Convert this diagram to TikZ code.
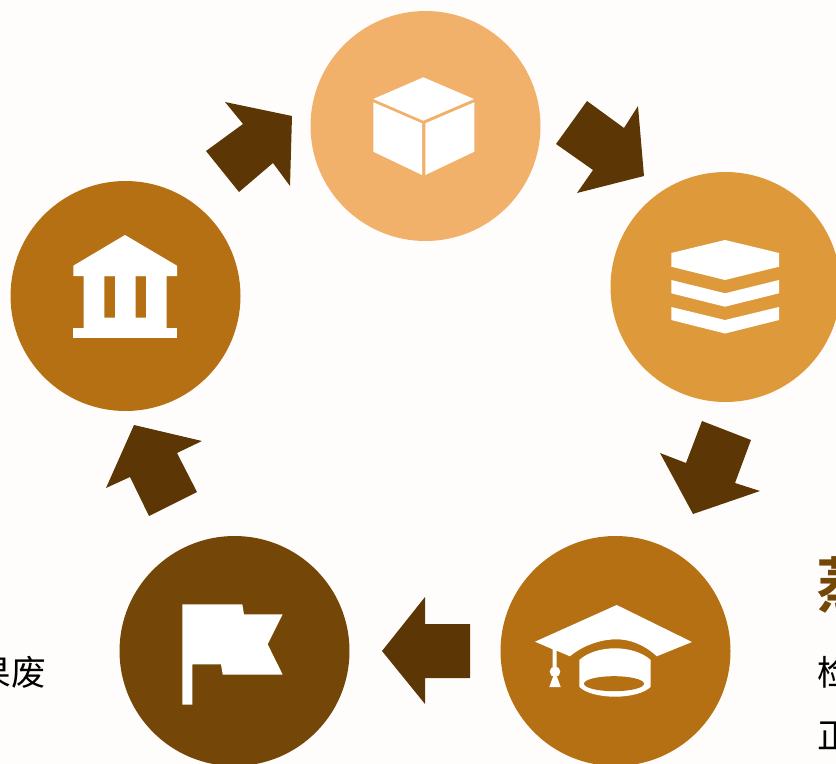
\documentclass[tikz,border=0pt]{standalone}
\usepackage{fontspec}
\newfontfamily\cjk{Noto Sans CJK SC}
\newfontfamily\cjkb{Noto Sans CJK SC Bold}
\definecolor{cTop}{HTML}{F2B16A}
\definecolor{cRight}{HTML}{DE9A3A}
\definecolor{cMid}{HTML}{B57014}
\definecolor{cDark}{HTML}{744708}
\definecolor{cArrow}{HTML}{5C3705}
\definecolor{cBg}{HTML}{FFFDFB}
\tikzset{
  x=0.75pt,y=-0.75pt,
  disc/.style={circle,inner sep=0pt,minimum size=172.5pt,fill=#1},
  blockarrow/.style={fill=cArrow},
  glyph/.style={fill=white},
  bodytext/.style={inner sep=0pt,font=\cjk\fontsize{26pt}{26pt}\selectfont,text=black},
  headtext/.style={inner sep=0pt,font=\cjkb\fontsize{45pt}{45pt}\selectfont,text=cDark}
}
\begin{document}
\begin{tikzpicture}
\useasboundingbox (0,0) rectangle (836,764);
\fill[cBg] (0,0) rectangle (836,764);
% circles
\node[disc=cTop] (n1) at (425.5,126) {};
\node[disc=cRight] (n2) at (725.5,287) {};
\node[disc=cMid] (n3) at (615.5,651) {};
\node[disc=cDark] (n4) at (234.5,651) {};
\node[disc=cMid] (n5) at (125.5,296) {};
% arrows
\fill[blockarrow] (225,102) -- (292,116) -- (290,186) -- (273,163) -- (239,192) -- (206,151) -- (243,124) -- cycle;
\fill[blockarrow] (587,101) -- (624,128) -- (638,106) -- (644,176) -- (577,193) -- (593,170) -- (556,144) -- cycle;
\fill[blockarrow] (702,421) -- (751,440) -- (735,483) -- (760,491) -- (693,514) -- (660,453) -- (686,463) -- cycle;
\fill[blockarrow] (470,624) -- (470,678) -- (425,678) -- (425,704) -- (382,651) -- (425,597) -- (425,624) -- cycle;
\fill[blockarrow] (197,492) -- (149,516) -- (130,477) -- (106,488) -- (134,425) -- (202,441) -- (177,453) -- cycle;
% cube
\fill[glyph] (423.3,77.3) -- (474,99) -- (423.3,120.7) -- (373.3,99) -- cycle;
\fill[glyph] (373.3,102.3) -- (422,123.3) -- (422,175) -- (373.3,151.7) -- cycle;
\fill[glyph] (425.3,123.3) -- (474.3,102.3) -- (474.3,151.7) -- (425.3,175) -- cycle;
% layers
\fill[glyph] (725,240) -- (779,253) -- (779,266.7) -- (725,280) -- (671.3,266.7) -- (671.3,253) -- cycle;
\fill[glyph] (671.3,280) -- (725,293.3) -- (779,280) -- (779,293.3) -- (725,306.7) -- (671.3,293.3) -- cycle;
\fill[glyph] (671.3,307) -- (725,320) -- (779,307) -- (779,320) -- (725,333.5) -- (671.3,320) -- cycle;
% bank
\fill[glyph] (125,235) -- (177,265.7) -- (177,276) -- (73.3,276) -- (73.3,265.7) -- cycle;
\fill[glyph,even odd rule] (83.7,276) rectangle (166.7,328.3) (104.3,276) rectangle (115,317.7) (135.7,276) rectangle (146,317.7);
\fill[glyph] (73.3,328.3) rectangle (177,338.3);
% flag
\fill[glyph] (182.3,604.3) -- (242.3,604.3) -- (244,614.3) -- (282.7,614.3) -- (267.7,644.3) -- (282.7,674.7) -- (222.7,674.7) -- (221,664.3) -- (192.3,664.3) -- (192.3,704.7) -- (182.3,704.7) -- cycle;
% cap
\fill[glyph] (616.7,605) -- (692,642) -- (656.7,656.3) .. controls (645,645) and (630,639.3) .. (616.7,639.3) .. controls (600,639.3) and (582,646) .. (570,656.3) -- (556.7,650.7) -- (556.7,667) -- (552.7,667) -- (552.7,649.3) -- (535,641.7) -- cycle;
\fill[glyph] (555,671.7) circle[radius=5.3];
\fill[glyph] (553.3,676) -- (556.7,676) -- (560.7,687) -- (549.3,687) -- cycle;
\fill[glyph] (579.3,660) .. controls (588,652) and (602,648.3) .. (615,648.3) .. controls (628,648.3) and (642,652) .. (650.7,660) -- (650.7,686.7) .. controls (645,693) and (630,696.7) .. (615,696.7) .. controls (600,696.7) and (585,693) .. (579.3,686.7) -- cycle;
\fill[cMid] (614,683.7) ellipse[x radius=30,y radius=7.5];
% texts
\node[bodytext,anchor=base east] (t1) at (46,685) {果废};
\node[headtext,anchor=base west] (t2) at (816,607) {蒸};
\node[bodytext,anchor=base west] (t3) at (817,685) {检};
\node[bodytext,anchor=base west] (t4) at (817,748) {正};
\end{tikzpicture}
\end{document}
